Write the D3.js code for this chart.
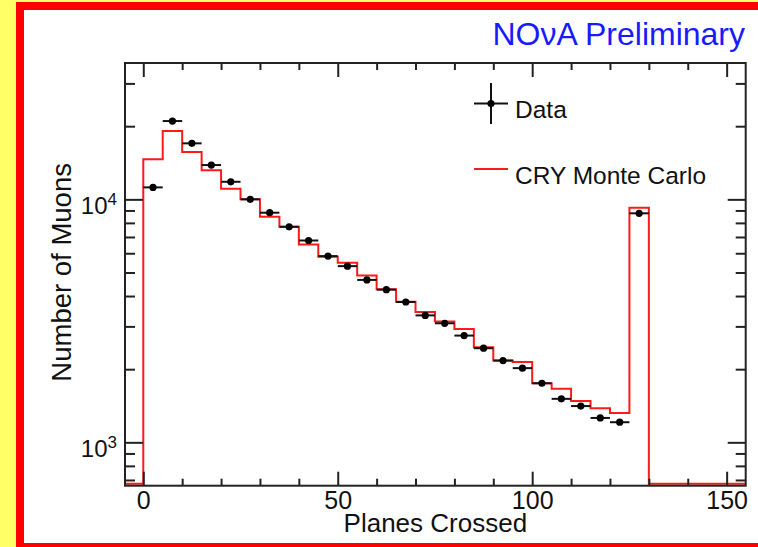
<!DOCTYPE html>
<html>
<head>
<meta charset="utf-8">
<script src="https://cdn.jsdelivr.net/npm/d3@7"></script>
<style>
  html, body { margin: 0; padding: 0; background: #ffff66; }
  svg { display: block; font-family: "Liberation Sans", Arial, Helvetica, sans-serif; }
  .axis path, .axis line { stroke: #222; stroke-width: 2; }
</style>
</head>
<body>
<div id="chart"></div>
<script>
// NOvA cosmic muons: planes crossed, data vs CRY Monte Carlo

// bin centres (planes crossed), bins 5 planes wide
const planeBins = [2.5, 7.5, 12.5, 17.5, 22.5, 27.5, 32.5, 37.5, 42.5, 47.5, 52.5, 57.5, 62.5,
  67.5, 72.5, 77.5, 82.5, 87.5, 92.5, 97.5, 102.5, 107.5, 112.5, 117.5, 122.5, 127.5]
const binWidth = 5

// Data counts per bin
const dataCounts = [11200, 21000, 17000, 13840, 11810, 10000, 8810, 7710, 6770, 5840, 5310, 4660, 4250,
  3780, 3330, 3090, 2750, 2440, 2170, 2020, 1750, 1510, 1410, 1260, 1210, 8760]

// CRY Monte Carlo counts per bin
const mcCounts = [14610, 19100, 15650, 13160, 11060, 10000, 8480, 7710, 6520, 5800, 5480, 4860, 4270,
  3790, 3440, 3140, 2930, 2460, 2170, 2140, 1750, 1660, 1480, 1380, 1320, 9240]

// axis ticks
const xMajorTicks = [0, 50, 100, 150]
const xMinorTicks = [10, 20, 30, 40, 60, 70, 80, 90, 110, 120, 130, 140]
const yMajorTicks = [1000, 10000]
const yMinorTicks = [700, 800, 900, 2000, 3000, 4000, 5000, 6000, 7000, 8000, 9000, 20000, 30000]
const yTickExp = { 1000: '3', 10000: '4' }

// level used to draw empty bins (sits on the frame bottom)
const emptyLevel = 675

var width = 758
var height = 547
var margin = { top: 63, right: 12.3, bottom: 61.3, left: 125 }
var plotW = width - margin.left - margin.right
var plotH = height - margin.top - margin.bottom

var svg = d3.select('#chart')
  .append('svg')
  .attr('width', width)
  .attr('height', height)

// yellow strip + red frame + white page
svg.append('rect').attr('x', 0).attr('y', 0).attr('width', width).attr('height', height).attr('fill', '#ffff66')
svg.append('rect').attr('x', 16).attr('y', 2).attr('width', width).attr('height', height).attr('fill', '#ff0000')
svg.append('rect').attr('x', 24).attr('y', 10).attr('width', width).attr('height', 533).attr('fill', '#ffffff')

var g = svg.append('g')
  .attr('transform', `translate(${margin.left}, ${margin.top})`)

const xScale = d3.scaleLinear()
  .domain([-4.7, 154.9])
  .range([0, plotW])

const yScale = d3.scaleLog()
  .domain([663, 36400])
  .range([plotH, 0])
  .clamp(true)

// MC histogram outline
const lo = xScale.domain()[0], hi = xScale.domain()[1]
const firstEdge = planeBins[0] - binWidth / 2
const lastEdge = planeBins[planeBins.length - 1] + binWidth / 2
var mcPts = [[lo, emptyLevel], [firstEdge, emptyLevel]]
planeBins.forEach((c, i) => {
  mcPts.push([c - binWidth / 2, mcCounts[i]])
  mcPts.push([c + binWidth / 2, mcCounts[i]])
})
mcPts.push([lastEdge, emptyLevel])
mcPts.push([hi, emptyLevel])

g.append('path')
  .datum(mcPts)
  .attr('fill', 'none')
  .attr('stroke', '#ff1a1a')
  .attr('stroke-width', 2)
  .attr('d', d3.line().x((d) => xScale(d[0])).y((d) => yScale(d[1])))

// data points with horizontal error bars
var pts = g.selectAll('.pt')
  .data(planeBins.map((c, i) => ({ x: c, y: dataCounts[i] })))
  .enter()
  .append('g')
  .attr('class', 'pt')

pts.append('line')
  .attr('x1', (d) => xScale(d.x - binWidth / 2))
  .attr('x2', (d) => xScale(d.x + binWidth / 2))
  .attr('y1', (d) => yScale(d.y))
  .attr('y2', (d) => yScale(d.y))
  .attr('stroke', '#111')
  .attr('stroke-width', 2)

pts.append('circle')
  .attr('cx', (d) => xScale(d.x))
  .attr('cy', (d) => yScale(d.y))
  .attr('r', 3.6)
  .attr('fill', '#000')

// axes (ROOT style: ticks inside, mirrored on top / right)
function noDomain(sel) { sel.select('.domain').remove() }

g.append('g').attr('class', 'axis')
  .attr('transform', `translate(0, ${plotH})`)
  .call(d3.axisBottom(xScale).tickValues(xMajorTicks).tickSize(-14).tickSizeOuter(0).tickPadding(6))
  .call(noDomain)
  .selectAll('text').attr('font-size', 25).attr('fill', '#111')

g.append('g').attr('class', 'axis')
  .attr('transform', `translate(0, ${plotH})`)
  .call(d3.axisBottom(xScale).tickValues(xMinorTicks).tickSize(-7).tickFormat(''))
  .call(noDomain)

g.append('g').attr('class', 'axis')
  .call(d3.axisTop(xScale).tickValues(xMajorTicks).tickSize(-14).tickFormat(''))
  .call(noDomain)

g.append('g').attr('class', 'axis')
  .call(d3.axisTop(xScale).tickValues(xMinorTicks).tickSize(-7).tickFormat(''))
  .call(noDomain)

var yLeft = g.append('g').attr('class', 'axis')
  .call(d3.axisLeft(yScale).tickValues(yMajorTicks).tickSize(-18).tickFormat(''))
  .call(noDomain)

yLeft.selectAll('.tick text').remove()
var yLab = yLeft.selectAll('.tick').append('text')
  .attr('x', -8)
  .attr('y', 14)
  .attr('text-anchor', 'end')
  .attr('fill', '#111')
  .attr('font-size', 24)
yLab.append('tspan').text('10')
yLab.append('tspan').attr('font-size', 17).attr('dy', -9).text((d) => yTickExp[d])

g.append('g').attr('class', 'axis')
  .call(d3.axisLeft(yScale).tickValues(yMinorTicks).tickSize(-10).tickFormat(''))
  .call(noDomain)

g.append('g').attr('class', 'axis')
  .attr('transform', `translate(${plotW}, 0)`)
  .call(d3.axisRight(yScale).tickValues(yMajorTicks).tickSize(-18).tickFormat(''))
  .call(noDomain)

g.append('g').attr('class', 'axis')
  .attr('transform', `translate(${plotW}, 0)`)
  .call(d3.axisRight(yScale).tickValues(yMinorTicks).tickSize(-10).tickFormat(''))
  .call(noDomain)

// frame
g.append('rect')
  .attr('width', plotW)
  .attr('height', plotH)
  .attr('fill', 'none')
  .attr('stroke', '#222')
  .attr('stroke-width', 2)

// axis titles
g.append('text')
  .attr('x', plotW / 2)
  .attr('y', plotH + 46)
  .attr('text-anchor', 'middle')
  .attr('font-size', 26)
  .attr('fill', '#111')
  .text('Planes Crossed')

g.append('text')
  .attr('transform', `translate(${-54}, ${plotH / 2 - 2}) rotate(-90)`)
  .attr('text-anchor', 'middle')
  .attr('font-size', 27.5)
  .attr('fill', '#111')
  .text('Number of Muons')

// title
svg.append('text')
  .attr('x', 745)
  .attr('y', 45)
  .attr('text-anchor', 'end')
  .attr('font-size', 32)
  .attr('fill', '#1a1aff')
  .text('NOνA Preliminary')

// legend
var leg = svg.append('g')
leg.append('line').attr('x1', 474).attr('x2', 508).attr('y1', 103.5).attr('y2', 103.5)
  .attr('stroke', '#111').attr('stroke-width', 2)
leg.append('line').attr('x1', 491).attr('x2', 491).attr('y1', 83).attr('y2', 124)
  .attr('stroke', '#111').attr('stroke-width', 2)
leg.append('circle').attr('cx', 491).attr('cy', 103.5).attr('r', 3.6).attr('fill', '#000')
leg.append('text').attr('x', 515).attr('y', 117.5).attr('font-size', 24.5).attr('fill', '#111').text('Data')

leg.append('line').attr('x1', 474).attr('x2', 508).attr('y1', 169).attr('y2', 169)
  .attr('stroke', '#ff1a1a').attr('stroke-width', 2)
leg.append('text').attr('x', 515).attr('y', 183.5).attr('font-size', 24.5).attr('fill', '#111').text('CRY Monte Carlo')
</script>
</body>
</html>
